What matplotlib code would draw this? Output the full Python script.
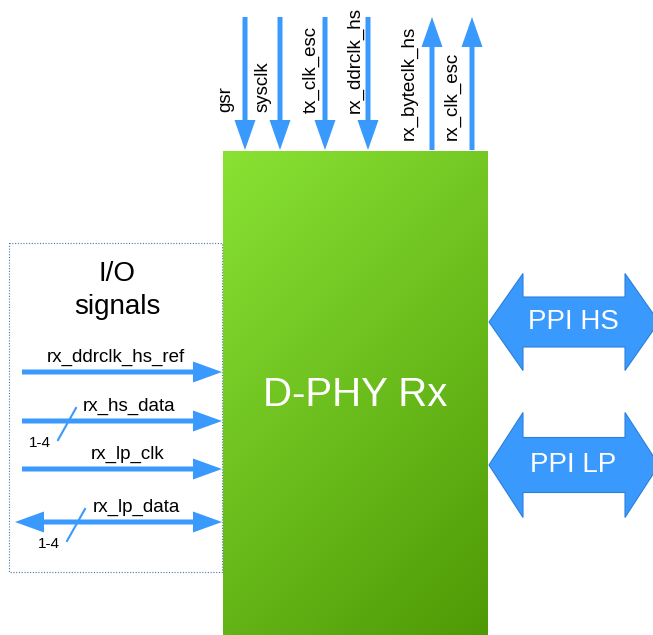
import numpy as np
import matplotlib.pyplot as plt
from matplotlib.patches import FancyArrow, Polygon, Rectangle
plt.rcParams['font.family'] = ['Liberation Sans', 'DejaVu Sans']

# top clock / reset signals (down = into block, up = out of block)
top_names = ['gsr', 'sysclk', 'tx_clk_esc', 'rx_ddrclk_hs', 'rx_byteclk_hs', 'rx_clk_esc']
top_dirs = ['in', 'in', 'in', 'in', 'out', 'out']
top_arrow_x = [245, 280, 325, 368, 432, 472]
top_label_x = [226, 263, 311, 355, 409, 452]
top_label_bottom = [112, 112, 113, 113, 140, 140]

# left I/O signals
io_names = ['rx_ddrclk_hs_ref', 'rx_hs_data', 'rx_lp_clk', 'rx_lp_data']
io_bidir = [False, False, False, True]
io_width = ['', '1-4', '', '1-4']
io_y = [372, 421, 469, 522]
io_label_x = [116, 129, 128, 136]

# right PPI buses
ppi_names = ['PPI HS', 'PPI LP']
ppi_y = [322, 465]

BLUE = '#3a99fc'
W, H = 653, 635


def draw():
    fig = plt.figure(figsize=(W / 100, H / 100), dpi=100)
    ax = fig.add_axes([0, 0, 1, 1])

    # main block with diagonal gradient
    bx0, bx1, by0, by1 = 223, 488, 151, 635
    xs = np.linspace(0, bx1 - bx0, 100)
    ys = np.linspace(0, by1 - by0, 200)
    gx, gy = np.meshgrid(xs, ys)
    t = (gx + gy) / ((bx1 - bx0) + (by1 - by0))
    c0 = np.array([138, 226, 52]) / 255
    c1 = np.array([78, 154, 6]) / 255
    img = c0[None, None, :] * (1 - t[..., None]) + c1[None, None, :] * t[..., None]
    ax.imshow(img, extent=(bx0, bx1, by1, by0), origin='upper', aspect='auto',
              interpolation='bilinear', zorder=1)
    ax.text((bx0 + bx1) / 2, 395, 'D-PHY Rx', color='white', fontsize=29,
            ha='center', va='center', zorder=3)

    # top arrows
    for name, d, ax_x, lx, lb in zip(top_names, top_dirs, top_arrow_x,
                                     top_label_x, top_label_bottom):
        if d == 'in':
            y0, dy = 17, 133
        else:
            y0, dy = 150, -133
        ax.add_patch(FancyArrow(ax_x, y0, 0, dy, width=5, head_width=21,
                                head_length=30, length_includes_head=True,
                                color=BLUE, lw=0, zorder=2))
        ax.text(lx, lb, name, rotation=90, fontsize=13.5, ha='center',
                va='bottom', zorder=3)

    # I/O dotted box
    ax.add_patch(Rectangle((9, 243), 213, 329, fill=False, ls=(0, (1, 1.5)),
                           lw=0.8, edgecolor='#4a74b0', zorder=0))
    ax.text(117, 274, 'I/O', fontsize=20, ha='center', va='center')
    ax.text(117, 307, 'signals', fontsize=20, ha='center', va='center')

    for name, bidir, wtxt, y, lx in zip(io_names, io_bidir, io_width, io_y, io_label_x):
        if bidir:
            mid = 118
            ax.add_patch(FancyArrow(mid, y, 222 - mid, 0, width=5, head_width=21,
                                    head_length=29, length_includes_head=True,
                                    color=BLUE, lw=0, zorder=2))
            ax.add_patch(FancyArrow(mid, y, 15 - mid, 0, width=5, head_width=21,
                                    head_length=29, length_includes_head=True,
                                    color=BLUE, lw=0, zorder=2))
        else:
            ax.add_patch(FancyArrow(22, y, 200, 0, width=5, head_width=21,
                                    head_length=29, length_includes_head=True,
                                    color=BLUE, lw=0, zorder=2))
        ax.text(lx, y - 15, name, fontsize=13.5, ha='center', va='center')
        if wtxt:
            sx = 67 if bidir else 58
            ax.plot([sx, sx + 18], [y + 19, y - 13], color=BLUE, lw=1.5, zorder=3)
            ax.text(sx - 18, y + 22, wtxt, fontsize=11, ha='center', va='center')

    # PPI buses
    half_head = [48.5, 52.5]
    half_shaft = [25, 27.5]
    for name, y, hh, hs in zip(ppi_names, ppi_y, half_head, half_shaft):
        lt, lb, rb, rt = 489, 523, 625, 659
        pts = [(lt, y), (lb, y - hh), (lb, y - hs), (rb, y - hs), (rb, y - hh),
               (rt, y), (rb, y + hh), (rb, y + hs), (lb, y + hs), (lb, y + hh)]
        ax.add_patch(Polygon(pts, closed=True, facecolor=BLUE,
                             edgecolor='#2a7fd8', lw=0.8, zorder=2))
        ax.text(573, y, name, color='white', fontsize=20, ha='center',
                va='center', zorder=3)

    ax.set_xlim(0, W)
    ax.set_ylim(H, 0)
    ax.axis('off')
    fig.savefig('out.png', dpi=100)


if __name__ == '__main__':
    draw()
